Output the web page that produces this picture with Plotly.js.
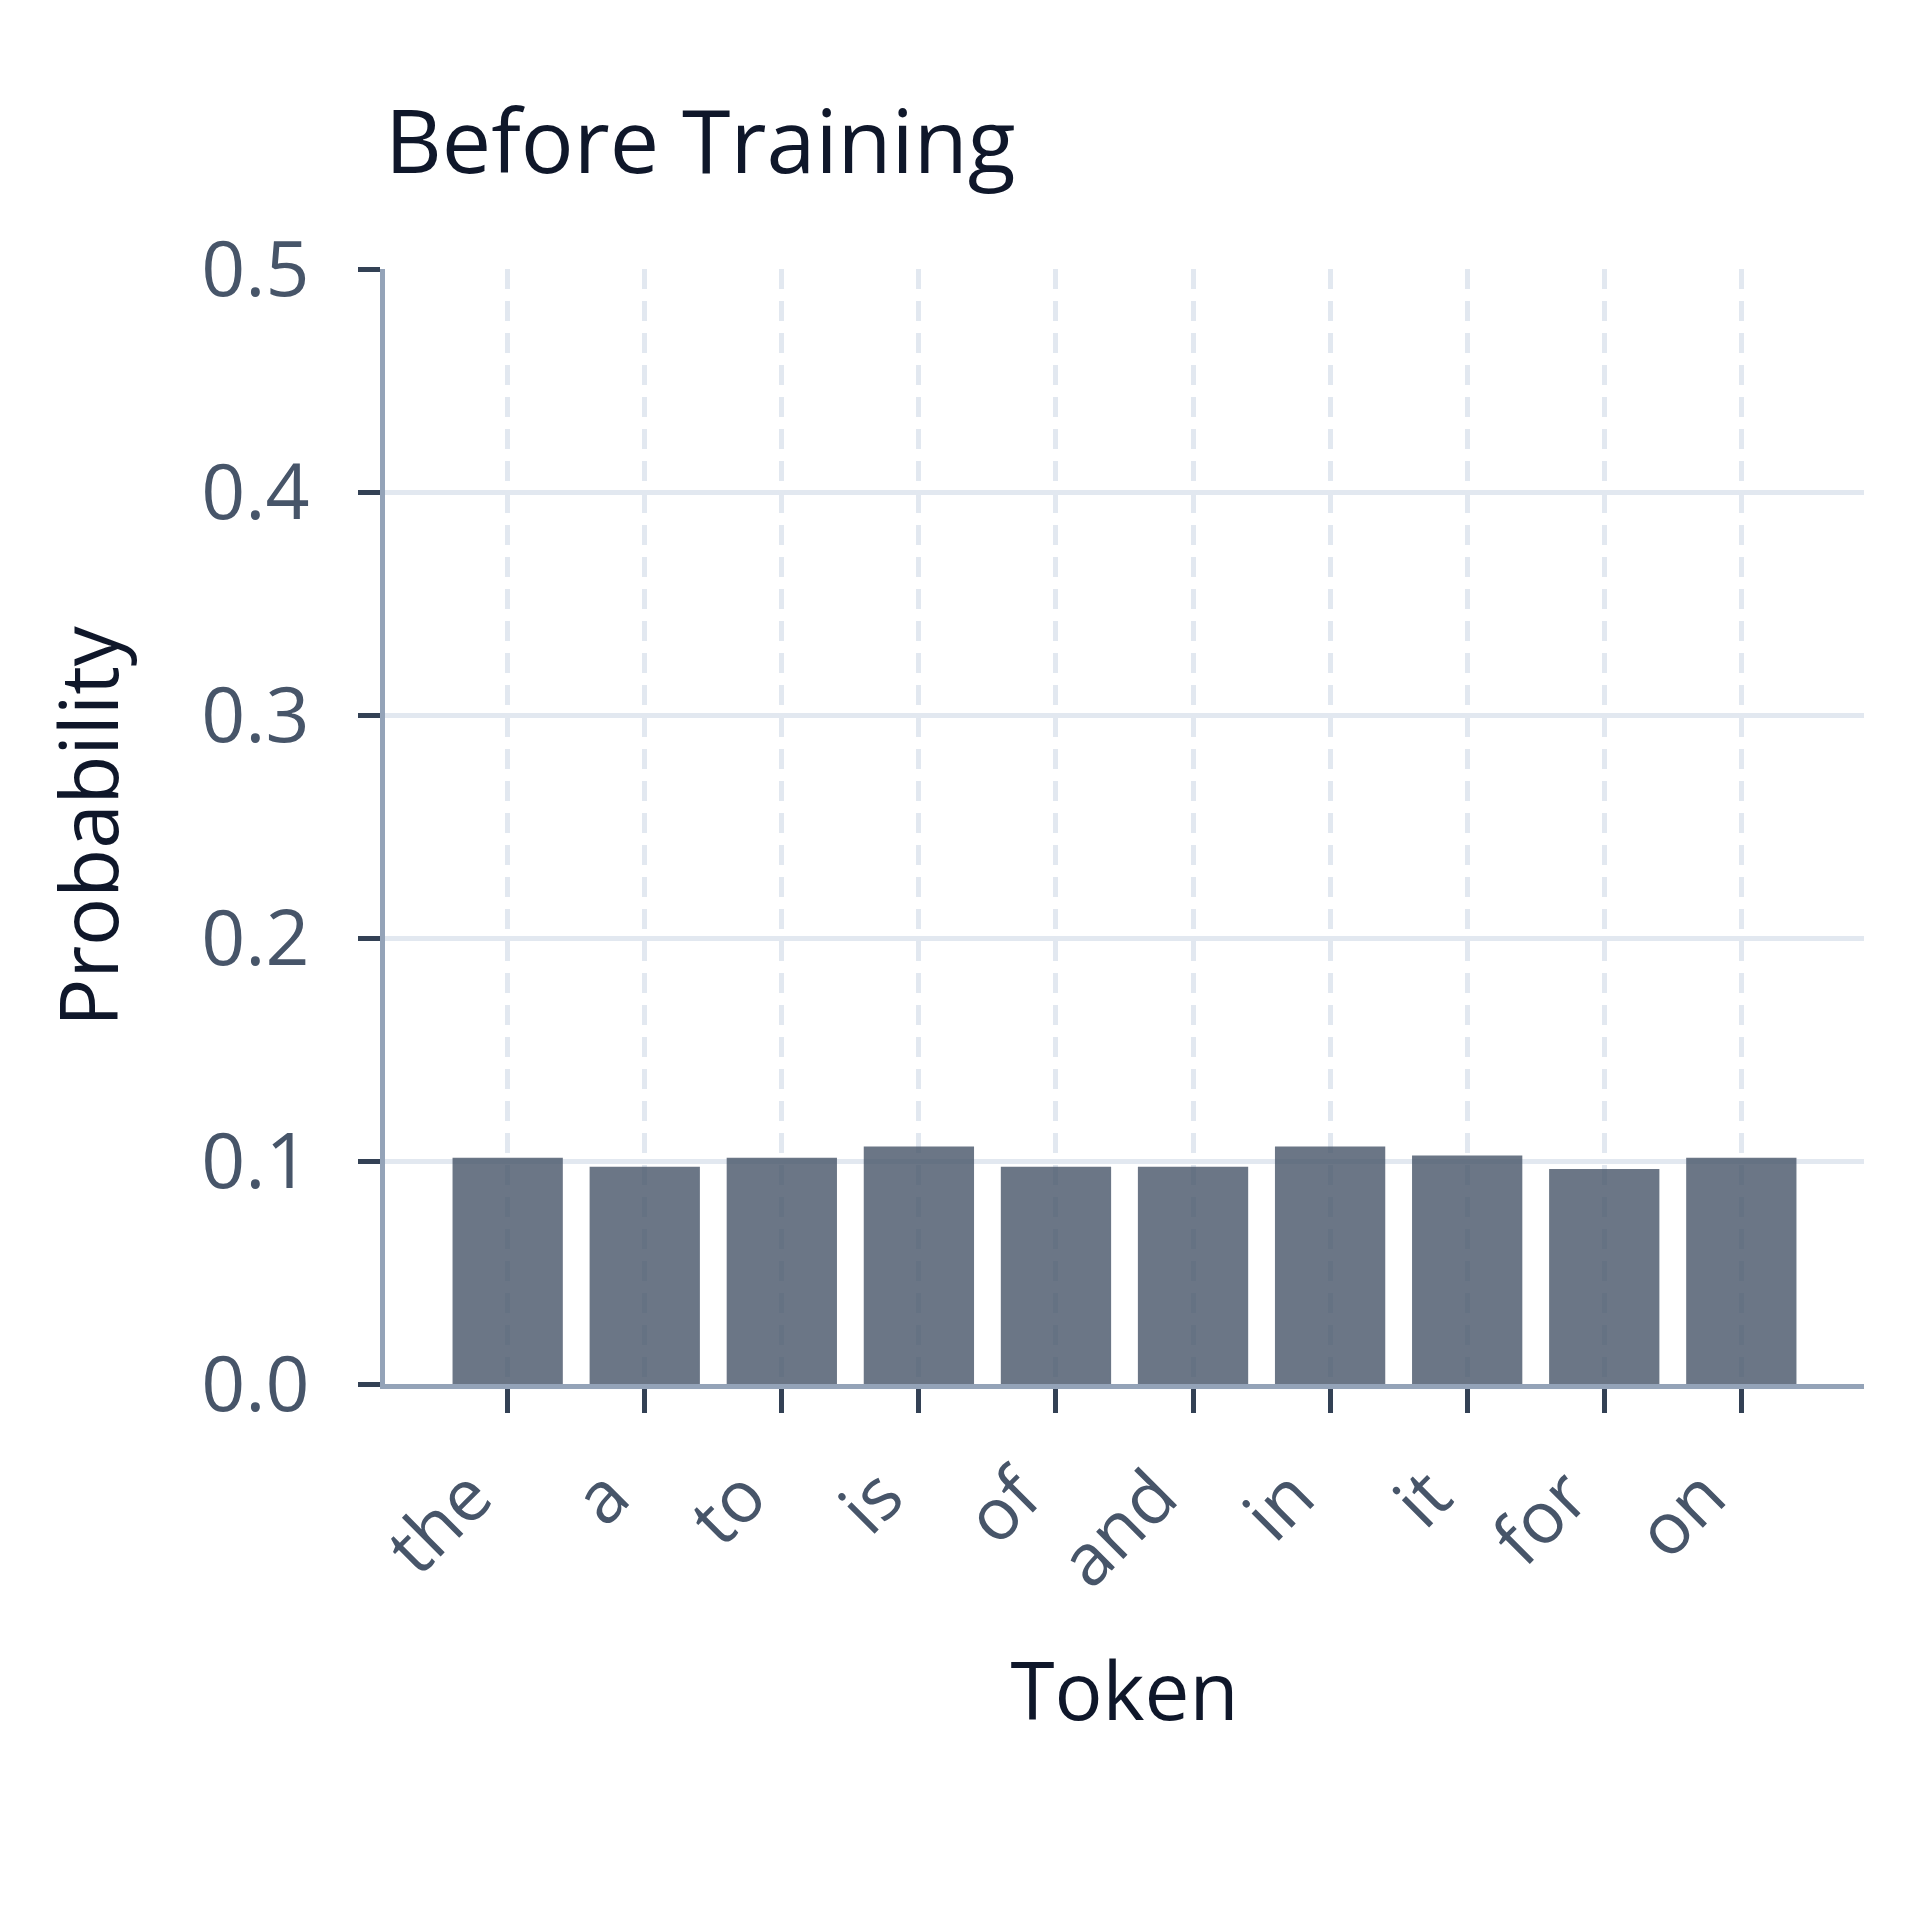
<!DOCTYPE html>
<html>
<head>
<meta charset="utf-8">
<script src="https://cdn.plot.ly/plotly-3.0.1.min.js"></script>
<style>
  html, body { margin: 0; padding: 0; background: #ffffff; }
  #chart { width: 1920px; height: 1920px; }
</style>
</head>
<body>
<div id="chart"></div>
<script>
// token probabilities before training
const tokens = ['the', 'a', 'to', 'is', 'of', 'and', 'in', 'it', 'for', 'on'];
const probs = [0.101, 0.097, 0.101, 0.106, 0.097, 0.097, 0.106, 0.102, 0.096, 0.101];
const yTicks = [0, 0.1, 0.2, 0.3, 0.4, 0.5];

const FONT = '"Open Sans", "Noto Sans", sans-serif';

const trace = {
    type: 'bar',
    x: tokens,
    y: probs,
    marker: {
        color: '#475569',
        opacity: 0.8,
        line: { color: '#475569', width: 2 }
    },
    hovertemplate: '%{x}: %{y:.3f}<extra></extra>'
};

const layout = {
    width: 1920,
    height: 1920,
    paper_bgcolor: '#ffffff',
    plot_bgcolor: '#ffffff',
    font: { family: FONT, color: '#475569' },
    title: {
        text: 'Before Training',
        font: { size: 88, color: '#0f172a', family: FONT },
        xref: 'paper',
        x: 0,
        xanchor: 'left',
        yref: 'container',
        y: 0.926,
        yanchor: 'middle'
    },
    margin: { l: 385, r: 56, t: 269, b: 536 },
    bargap: 0.21,
    showlegend: false,
    xaxis: {
        title: {
            text: 'Token',
            font: { size: 80, color: '#0f172a' },
            standoff: 60
        },
        range: [-0.895, 9.895],
        tickangle: -45,
        tickfont: { size: 72, color: '#475569' },
        ticklabelshift: -37,
        ticklabelstandoff: 12,
        ticks: 'outside',
        ticklen: 24,
        tickwidth: 5,
        tickcolor: '#334155',
        showline: true,
        linecolor: '#94a3b8',
        linewidth: 5,
        showgrid: true,
        gridcolor: '#e2e8f0',
        gridwidth: 5,
        griddash: '20px,12px',
        zeroline: false,
        automargin: false
    },
    yaxis: {
        title: {
            text: 'Probability',
            font: { size: 80, color: '#0f172a' },
            standoff: 58
        },
        range: [0, 0.5],
        tickvals: yTicks,
        tickformat: '.1f',
        tickfont: { size: 77, color: '#475569' },
        ticklabelstandoff: 33,
        ticks: 'outside',
        ticklen: 22,
        tickwidth: 5,
        tickcolor: '#334155',
        showline: true,
        linecolor: '#94a3b8',
        linewidth: 5,
        showgrid: true,
        gridcolor: '#e2e8f0',
        gridwidth: 5,
        zeroline: false,
        automargin: false
    }
};

Plotly.newPlot('chart', [trace], layout, { displayModeBar: false, staticPlot: true });
</script>
</body>
</html>
